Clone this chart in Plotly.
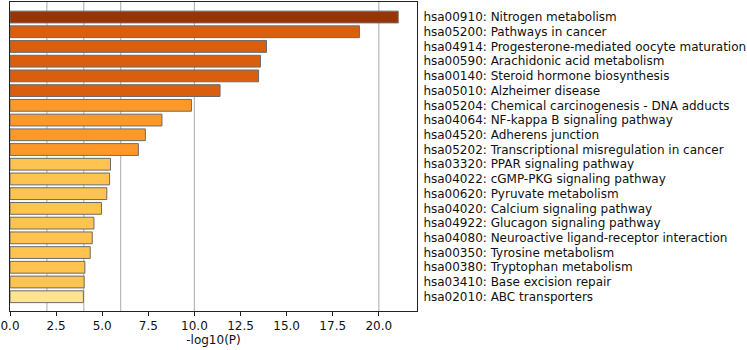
import plotly.graph_objects as go

terms = [
    "hsa00910: Nitrogen metabolism",
    "hsa05200: Pathways in cancer",
    "hsa04914: Progesterone-mediated oocyte maturation",
    "hsa00590: Arachidonic acid metabolism",
    "hsa00140: Steroid hormone biosynthesis",
    "hsa05010: Alzheimer disease",
    "hsa05204: Chemical carcinogenesis - DNA adducts",
    "hsa04064: NF-kappa B signaling pathway",
    "hsa04520: Adherens junction",
    "hsa05202: Transcriptional misregulation in cancer",
    "hsa03320: PPAR signaling pathway",
    "hsa04022: cGMP-PKG signaling pathway",
    "hsa00620: Pyruvate metabolism",
    "hsa04020: Calcium signaling pathway",
    "hsa04922: Glucagon signaling pathway",
    "hsa04080: Neuroactive ligand-receptor interaction",
    "hsa00350: Tyrosine metabolism",
    "hsa00380: Tryptophan metabolism",
    "hsa03410: Base excision repair",
    "hsa02010: ABC transporters",
]
neg_log_p = [21.05, 18.95, 13.91, 13.58, 13.48, 11.39, 9.84, 8.24, 7.34, 6.96,
             5.45, 5.40, 5.25, 4.96, 4.55, 4.46, 4.35, 4.06, 4.02, 3.98]
bar_colors = ["#993404"] + ["#d95f0e"] * 5 + ["#fe9929"] * 4 + ["#fec44f"] * 9 + ["#fee391"]
threshold_lines = [2, 4, 6, 10, 20]
x_ticks = [0, 2.5, 5, 7.5, 10, 12.5, 15, 17.5, 20]
x_tick_text = ["0.0", "2.5", "5.0", "7.5", "10.0", "12.5", "15.0", "17.5", "20.0"]

fig = go.Figure()
fig.add_trace(go.Bar(
    x=neg_log_p,
    y=list(range(len(terms))),
    orientation="h",
    width=0.8,
    marker=dict(color=bar_colors, line=dict(color="#6b6b6b", width=1)),
    hoverinfo="x",
))

for v in threshold_lines:
    fig.add_shape(type="line", xref="x", yref="paper", x0=v, x1=v, y0=0, y1=1,
                  line=dict(color="#b8b8b8", width=1.2), layer="below")

font = dict(family="DejaVu Sans", size=12, color="#111111")
fig.update_layout(
    width=747, height=350,
    margin=dict(l=10, r=330, t=2, b=39, autoexpand=False),
    paper_bgcolor="white", plot_bgcolor="white",
    showlegend=False,
    font=font,
    xaxis=dict(
        range=[0, 22.07], tickvals=x_ticks, ticktext=x_tick_text,
        showgrid=False, zeroline=False, automargin=False,
        showline=True, mirror=True, linecolor="#222222", linewidth=1,
        ticks="outside", ticklen=3.5, tickcolor="#222222", tickwidth=1,
        title=dict(text="-log10(P)", font=font, standoff=1),
        tickfont=font,
    ),
    yaxis=dict(
        range=[19.97, -1.02], tickvals=list(range(len(terms))), ticktext=terms,
        side="right", showgrid=False, zeroline=False, automargin=False,
        showline=True, mirror=True, linecolor="#222222", linewidth=1,
        ticks="", ticklabelstandoff=3,
        tickfont=font,
    ),
)

fig.write_html(
    "out.html",
    config={"displayModeBar": False},
    post_script="document.body.style.margin='0';document.body.style.padding='0';",
)
